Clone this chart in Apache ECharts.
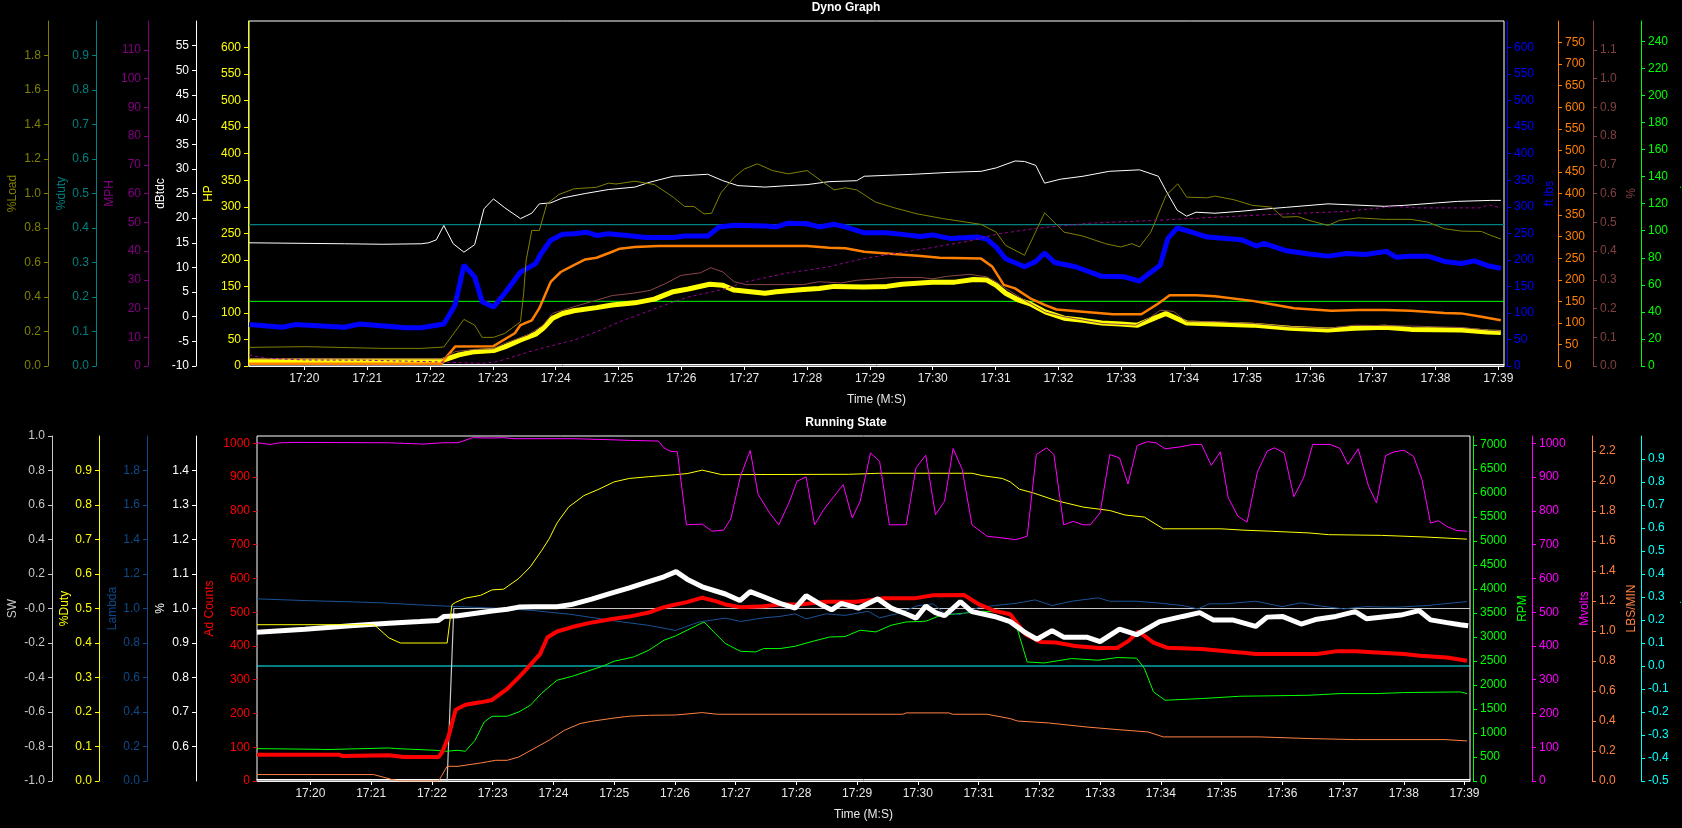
<!DOCTYPE html>
<html><head><meta charset="utf-8">
<style>html,body{margin:0;padding:0;background:#000;overflow:hidden}#c{width:1682px;height:828px}</style>
<script src="https://cdn.jsdelivr.net/npm/echarts@6/dist/echarts.min.js"></script>
</head><body><div id="c"></div>
<script>
// ---------- time axis (minutes after 17:00) ----------
const X_MIN = 19.12, X_MAX = 39.09;
const minuteTicks = [20,21,22,23,24,25,26,27,28,29,30,31,32,33,34,35,36,37,38,39];
const minuteLabels = ['17:20','17:21','17:22','17:23','17:24','17:25','17:26','17:27','17:28','17:29','17:30','17:31','17:32','17:33','17:34','17:35','17:36','17:37','17:38','17:39'];

// ---------- Dyno Graph series ----------
const ftLbs = [[19.12,78],[19.66,73],[19.85,78],[20.64,73],[20.88,79],[21.61,72],[21.86,72],[22.22,79],[22.40,115],[22.54,190],[22.71,168],[22.83,121],[23.01,111],[23.19,137],[23.44,177],[23.68,193],[23.77,212],[23.92,237],[24.11,248],[24.29,249],[24.50,252],[24.65,246],[24.84,249],[25.14,246],[25.44,242],[25.87,242],[26.05,245],[26.42,245],[26.60,262],[26.84,265],[27.33,264],[27.51,262],[27.70,269],[28.0,268],[28.19,262],[28.43,267],[28.61,262],[28.91,251],[29.27,251],[29.51,248],[29.81,244],[29.99,247],[30.29,240],[30.71,243],[30.86,239],[31.01,224],[31.16,202],[31.46,187],[31.64,197],[31.78,213],[31.94,195],[32.27,187],[32.69,169],[33.05,168],[33.29,160],[33.44,174],[33.62,190],[33.74,240],[33.89,260],[34.07,254],[34.37,243],[34.91,238],[35.15,226],[35.27,231],[35.63,217],[35.99,211],[36.29,207],[36.59,212],[36.89,210],[37.22,216],[37.37,205],[37.61,207],[37.88,207],[38.14,197],[38.41,193],[38.62,198],[38.83,189],[39.04,184]];
const hp = [[19.12,10],[22.19,10],[22.46,21],[22.71,27],[23.01,29],[23.19,36],[23.44,49],[23.68,60],[23.80,71],[23.95,90],[24.11,99],[24.29,104],[24.65,110],[24.90,115],[25.26,119],[25.57,126],[25.87,140],[26.11,145],[26.45,154],[26.66,152],[26.84,143],[27.33,137],[27.51,140],[27.94,144],[28.19,146],[28.43,150],[28.91,149],[29.27,150],[29.51,154],[29.99,158],[30.35,158],[30.65,163],[30.86,162],[31.01,152],[31.16,137],[31.37,124],[31.55,117],[31.79,102],[32.09,90],[32.39,86],[32.69,81],[32.99,79],[33.26,77],[33.44,86],[33.71,99],[34.04,81],[34.49,79],[35.09,77],[35.69,71],[36.29,68],[36.71,71],[37.19,73],[37.61,69],[38.41,68],[38.83,64],[39.04,63]];
const torqueOrange = [[19.12,5],[22.19,5],[22.22,14],[22.40,45],[23.01,46],[23.19,62],[23.35,76],[23.44,95],[23.62,106],[23.74,134],[23.92,195],[24.08,218],[24.29,234],[24.47,247],[24.65,251],[24.90,265],[25.02,272],[25.26,276],[25.63,278],[28.0,278],[28.35,274],[28.61,273],[28.91,265],[29.27,261],[29.81,255],[30.11,251],[30.77,249],[30.95,230],[31.13,188],[31.31,180],[31.55,157],[31.79,141],[31.97,131],[32.39,126],[32.87,120],[33.32,120],[33.59,145],[33.77,164],[34.19,164],[34.49,162],[35.09,151],[35.39,143],[35.75,134],[36.35,128],[36.77,130],[37.19,130],[37.61,128],[38.14,123],[38.41,122],[38.73,114],[39.04,106]];
const dBtdc = [[19.12,15.0],[20.64,14.8],[21.25,14.7],[21.86,14.8],[21.98,15.0],[22.10,15.6],[22.22,18.5],[22.37,14.8],[22.54,13.1],[22.71,14.6],[22.86,21.9],[23.01,23.9],[23.19,22.1],[23.44,19.9],[23.62,21.0],[23.74,22.9],[23.92,23.1],[24.11,24.1],[24.47,25.0],[24.84,25.8],[25.26,26.3],[25.50,27.3],[25.87,28.5],[26.42,28.9],[26.66,27.6],[26.90,26.6],[27.33,26.3],[27.70,26.6],[28.0,26.8],[28.35,27.4],[28.79,27.6],[28.91,28.5],[29.69,28.9],[30.29,29.3],[30.77,29.5],[31.01,30.2],[31.31,31.6],[31.46,31.5],[31.64,30.7],[31.78,27.1],[32.03,27.9],[32.39,28.5],[32.81,29.5],[33.29,29.8],[33.59,28.5],[33.71,25.6],[33.89,21.6],[34.04,20.4],[34.19,21.2],[34.49,21.0],[34.91,21.4],[35.15,21.7],[35.63,22.2],[36.29,22.9],[37.19,22.4],[37.51,22.6],[38.03,23.1],[38.35,23.4],[38.88,23.6],[39.04,23.6]];
const pctLoad = [[19.12,0.108],[20.03,0.112],[21.25,0.102],[21.86,0.102],[22.22,0.11],[22.54,0.27],[22.71,0.237],[22.83,0.166],[23.01,0.166],[23.19,0.189],[23.44,0.256],[23.49,0.42],[23.53,0.613],[23.62,0.786],[23.74,0.786],[23.86,0.94],[24.05,0.994],[24.29,1.027],[24.65,1.036],[24.84,1.06],[24.96,1.055],[25.26,1.071],[25.57,1.052],[25.87,0.979],[26.05,0.925],[26.20,0.925],[26.36,0.882],[26.48,0.885],[26.63,1.004],[26.84,1.094],[27.00,1.142],[27.21,1.172],[27.45,1.133],[27.70,1.114],[28.0,1.133],[28.24,1.07],[28.43,1.021],[28.61,1.033],[28.79,1.021],[29.09,0.95],[29.39,0.917],[29.75,0.882],[30.17,0.854],[30.77,0.821],[31.01,0.776],[31.16,0.699],[31.46,0.642],[31.78,0.888],[32.09,0.776],[32.39,0.753],[32.75,0.709],[32.99,0.69],[33.17,0.709],[33.29,0.69],[33.47,0.776],[33.71,0.988],[33.90,1.056],[34.04,0.979],[34.37,0.975],[34.49,0.985],[34.79,0.964],[35.09,0.931],[35.39,0.921],[35.57,0.863],[35.81,0.866],[35.99,0.844],[36.29,0.815],[36.47,0.844],[36.77,0.859],[37.19,0.85],[37.61,0.85],[37.88,0.834],[38.14,0.796],[38.41,0.782],[38.73,0.78],[38.88,0.757],[39.04,0.736]];
const pctBrown = [[19.12,0.025],[22.19,0.025],[22.40,0.05],[22.71,0.058],[23.01,0.06],[23.19,0.079],[23.56,0.108],[23.80,0.142],[23.95,0.183],[24.29,0.206],[24.65,0.229],[24.90,0.245],[25.26,0.254],[25.50,0.263],[25.75,0.287],[25.99,0.315],[26.30,0.324],[26.47,0.342],[26.66,0.327],[26.84,0.293],[27.03,0.283],[27.94,0.283],[28.18,0.293],[28.55,0.289],[28.79,0.298],[29.39,0.308],[29.81,0.308],[29.99,0.303],[30.23,0.312],[30.59,0.319],[30.86,0.31],[31.01,0.293],[31.16,0.27],[31.46,0.229],[31.79,0.188],[32.09,0.171],[32.39,0.16],[32.69,0.148],[33.23,0.142],[33.44,0.166],[33.62,0.194],[33.83,0.19],[34.04,0.154],[34.49,0.154],[35.09,0.148],[35.69,0.136],[36.29,0.131],[36.71,0.142],[37.61,0.139],[38.41,0.134],[38.83,0.125],[39.04,0.122]];
const mph = [[19.12,3.8],[19.42,2.7],[20.0,2.1],[21.0,2.0],[22.0,1.5],[22.83,0.9],[23.07,1.5],[23.32,3.2],[23.68,5.6],[23.98,7.3],[24.29,9.0],[24.65,11.9],[25.02,15.4],[25.38,18.3],[25.81,21.8],[26.11,24.0],[26.48,25.8],[26.72,27.0],[27.03,29.3],[27.33,30.7],[27.70,32.4],[28.0,33.3],[28.35,34.5],[28.55,35.6],[28.91,37.4],[29.39,39.1],[29.99,41.2],[30.59,43.5],[31.01,45.8],[31.61,47.8],[32.51,49.7],[33.59,50.7],[34.55,51.8],[35.39,52.7],[36.59,53.8],[37.35,55.5],[37.7,55.0],[38.7,55.0],[38.85,56.0],[39.04,55.0]];
const dutyRef = 0.41;   // teal flat line, %duty
const psiRef = 47.8;    // green flat line, psi

// ---------- Running State series ----------
const mvolts = [[19.12,1002],[19.34,997],[19.50,1002],[19.78,1003],[21.29,1002],[21.86,998],[22.17,1002],[22.43,1002],[22.67,1017],[22.99,1016],[23.18,1017],[23.37,1014],[24.31,1014],[24.94,1011],[25.25,1009],[25.73,1007],[25.82,987],[25.92,977],[26.04,975],[26.19,759],[26.45,761],[26.61,740],[26.80,743],[26.92,776],[27.08,903],[27.24,979],[27.37,849],[27.56,794],[27.71,759],[27.89,829],[28.01,888],[28.16,901],[28.30,759],[28.45,804],[28.77,878],[28.92,779],[29.05,829],[29.22,972],[29.37,947],[29.53,759],[29.81,759],[29.97,928],[30.13,965],[30.29,789],[30.44,829],[30.58,985],[30.73,923],[30.89,759],[31.14,725],[31.39,720],[31.61,715],[31.80,725],[31.95,967],[32.12,987],[32.24,967],[32.40,759],[32.56,769],[32.72,759],[32.84,759],[33.0,794],[33.16,967],[33.32,957],[33.46,880],[33.61,994],[33.78,1005],[33.92,1002],[34.07,984],[34.33,990],[34.52,997],[34.67,997],[34.83,935],[34.98,975],[35.11,839],[35.27,784],[35.42,767],[35.59,915],[35.75,977],[35.87,987],[36.03,972],[36.19,842],[36.35,898],[36.50,997],[36.79,997],[36.95,985],[37.08,938],[37.25,984],[37.42,873],[37.55,824],[37.70,964],[37.84,975],[38.0,980],[38.16,962],[38.30,893],[38.44,764],[38.57,771],[38.71,754],[38.87,742],[39.04,740]];
const dutyYellow = [[19.12,0.453],[21.04,0.453],[21.10,0.445],[21.29,0.415],[21.48,0.40],[22.25,0.40],[22.33,0.511],[22.39,0.518],[22.55,0.53],[22.80,0.538],[22.99,0.554],[23.18,0.556],[23.43,0.587],[23.62,0.621],[23.81,0.669],[23.93,0.702],[24.06,0.748],[24.25,0.794],[24.50,0.827],[24.75,0.846],[25.0,0.867],[25.25,0.877],[25.57,0.882],[26.01,0.888],[26.20,0.891],[26.45,0.901],[26.77,0.888],[28.86,0.889],[29.37,0.892],[30.89,0.892],[31.07,0.885],[31.39,0.877],[31.52,0.867],[31.67,0.846],[31.90,0.835],[32.27,0.813],[32.72,0.794],[33.16,0.784],[33.41,0.771],[33.73,0.765],[34.04,0.731],[34.99,0.731],[35.37,0.727],[35.81,0.724],[36.44,0.719],[36.76,0.714],[37.63,0.712],[38.38,0.707],[38.71,0.704],[39.04,0.701]];
const pctWhite = [[19.12,0.931],[19.91,0.94],[20.66,0.95],[21.29,0.957],[21.80,0.962],[22.10,0.965],[22.20,0.977],[22.43,0.979],[22.99,0.993],[23.24,0.998],[23.43,1.004],[23.68,1.005],[24.06,1.005],[24.31,1.012],[24.63,1.027],[24.94,1.044],[25.25,1.06],[25.57,1.078],[25.82,1.092],[26.02,1.107],[26.20,1.085],[26.45,1.063],[26.83,1.042],[27.07,1.023],[27.24,1.049],[27.46,1.034],[27.73,1.015],[27.98,1.001],[28.16,1.037],[28.42,1.01],[28.58,0.996],[28.74,1.015],[29.02,1.001],[29.34,1.028],[29.56,1.001],[29.81,0.984],[29.97,0.972],[30.13,1.007],[30.29,0.988],[30.44,0.979],[30.70,1.02],[30.89,0.991],[31.26,0.977],[31.52,0.962],[31.77,0.93],[31.96,0.911],[32.21,0.936],[32.40,0.917],[32.78,0.917],[33.0,0.904],[33.32,0.94],[33.60,0.924],[33.98,0.962],[34.36,0.977],[34.64,0.988],[34.86,0.967],[35.18,0.967],[35.56,0.948],[35.75,0.975],[36.0,0.977],[36.31,0.955],[36.57,0.969],[36.88,0.977],[37.20,0.991],[37.39,0.97],[37.95,0.981],[38.25,0.994],[38.44,0.967],[38.71,0.959],[38.93,0.953],[39.06,0.95]];
const adCounts = [[19.12,78],[20.47,78],[20.53,74],[21.29,76],[21.54,71],[22.11,71],[22.17,86],[22.27,130],[22.39,211],[22.55,226],[22.80,233],[22.99,240],[23.24,273],[23.43,307],[23.56,332],[23.78,376],[23.90,425],[24.06,443],[24.31,456],[24.56,467],[24.94,479],[25.25,487],[25.57,499],[25.82,515],[26.01,523],[26.20,530],[26.45,543],[26.67,533],[26.83,523],[27.08,515],[27.46,518],[27.73,523],[28.04,523],[28.49,531],[28.99,531],[29.43,541],[29.94,541],[30.25,550],[30.76,551],[31.01,523],[31.26,504],[31.52,494],[31.77,435],[32.02,412],[32.27,410],[32.59,400],[32.97,394],[33.28,394],[33.47,415],[33.63,443],[33.88,410],[34.10,395],[34.67,391],[35.30,381],[35.56,376],[36.57,376],[36.88,384],[37.20,384],[37.63,380],[38.0,376],[38.27,371],[38.71,366],[39.04,356]];
const lambda = [[19.12,1.056],[19.91,1.046],[20.53,1.040],[21.16,1.033],[21.79,1.021],[22.42,1.011],[23.05,1.002],[23.68,0.988],[24.31,0.965],[24.94,0.931],[25.57,0.902],[26.01,0.873],[26.39,0.921],[26.83,0.944],[27.08,0.925],[27.46,0.946],[27.73,0.954],[27.98,0.969],[28.16,0.94],[28.49,0.969],[28.80,0.96],[29.18,0.984],[29.37,0.946],[29.69,0.973],[30.0,1.017],[30.25,1.027],[30.44,0.973],[30.70,0.965],[31.01,1.007],[31.26,1.017],[31.64,1.031],[31.93,1.05],[32.21,1.017],[32.53,1.042],[32.97,1.062],[33.16,1.042],[33.60,1.042],[33.98,1.031],[34.36,1.017],[34.61,0.998],[34.80,1.027],[35.05,1.027],[35.56,1.042],[36.0,1.011],[36.31,1.033],[36.57,1.017],[37.01,0.998],[37.39,1.011],[37.84,1.007],[38.38,1.017],[38.66,1.027],[39.04,1.040]];
const rpm = [[19.12,675],[20.16,660],[20.22,654],[21.29,688],[21.42,675],[22.05,640],[22.23,620],[22.43,640],[22.55,619],[22.71,849],[22.86,1230],[22.99,1349],[23.24,1350],[23.43,1439],[23.62,1578],[23.81,1835],[24.06,2100],[24.31,2183],[24.56,2287],[24.81,2392],[25.0,2496],[25.32,2585],[25.57,2725],[25.82,2934],[26.01,3023],[26.20,3142],[26.48,3315],[26.64,3107],[26.83,2865],[27.08,2704],[27.33,2690],[27.46,2760],[27.73,2760],[27.98,2808],[28.23,2898],[28.55,3002],[28.80,3010],[29.05,3142],[29.31,3107],[29.56,3246],[29.81,3315],[30.13,3329],[30.38,3455],[30.70,3490],[31.07,3538],[31.48,3510],[31.61,3282],[31.80,2481],[32.08,2460],[32.53,2552],[32.97,2517],[33.28,2573],[33.60,2560],[33.73,2343],[33.88,1856],[34.07,1683],[34.67,1718],[35.30,1766],[36.44,1787],[36.95,1822],[37.56,1822],[38.0,1843],[38.93,1856],[39.04,1822]];
const lbsMin = [[19.12,0.043],[21.04,0.043],[21.35,0.009],[21.48,0.0],[22.11,0.0],[22.25,0.098],[22.43,0.098],[22.80,0.12],[23.05,0.138],[23.24,0.138],[23.43,0.16],[23.68,0.216],[23.93,0.272],[24.18,0.338],[24.44,0.383],[24.63,0.398],[25.0,0.42],[25.25,0.432],[25.57,0.438],[26.01,0.44],[26.45,0.456],[26.70,0.445],[29.75,0.445],[29.81,0.454],[30.51,0.454],[30.57,0.445],[31.14,0.445],[31.52,0.416],[31.64,0.40],[32.15,0.387],[32.78,0.36],[33.28,0.343],[33.79,0.327],[34.04,0.294],[35.62,0.294],[36.44,0.283],[37.20,0.276],[38.68,0.276],[38.71,0.267],[39.04,0.267]];
const sw = [[19.12,-1],[22.25,-1],[22.30,-0.55],[22.36,0],[39.09,0]];
const cyanRef = 0.0;

// ---------- helpers ----------
const FONT = '"Liberation Sans", Arial, sans-serif';
function fmt(v, dec) {
  if (dec === 'sw') return Math.abs(v) < 1e-9 ? '-0.0' : v.toFixed(1);
  return dec ? v.toFixed(dec) : String(Math.round(v));
}
function yAx(g, pos, off, name, col, min, max, first, last, step, dec, gap, opt) {
  opt = opt || {};
  const vals = [];
  for (let k = 0; first + k * step <= last + 1e-9; k++) vals.push(+(first + k * step).toFixed(6));
  return {
    type: 'value', gridIndex: g, position: pos, offset: off, min: min, max: max,
    name: name, nameLocation: 'middle', nameRotate: 90, nameGap: gap, nameMoveOverlap: false,
    nameTextStyle: { color: col, fontSize: 12, fontFamily: FONT },
    axisLine: { show: opt.noLine ? false : true, onZero: false, lineStyle: { color: opt.lineCol || col, width: 1 } },
    axisTick: { show: true, length: 4, customValues: vals, lineStyle: { color: opt.lineCol || col } },
    axisLabel: { show: true, customValues: vals, margin: 7, color: col, fontSize: 12, fontFamily: FONT,
      formatter: v => fmt(v, dec) },
    splitLine: { show: false }
  };
}
function xAx(g) {
  return {
    type: 'value', gridIndex: g, min: X_MIN, max: X_MAX, position: 'bottom',
    name: 'Time (M:S)', nameLocation: 'middle', nameGap: 28, nameMoveOverlap: false,
    nameTextStyle: { color: '#e8e8e8', fontSize: 12, fontFamily: FONT },
    axisLine: { show: true, onZero: false, lineStyle: { color: '#ffffff' } },
    axisTick: { show: true, length: 4, customValues: minuteTicks, lineStyle: { color: '#ffffff' } },
    axisLabel: { customValues: minuteTicks, margin: 7, color: '#e8e8e8', fontSize: 12, fontFamily: FONT,
      formatter: v => minuteLabels[minuteTicks.indexOf(Math.round(v))] },
    splitLine: { show: false }
  };
}
// second frame line just inside the bottom edge of each plot
function xAxInner(g) {
  return {
    type: 'value', gridIndex: g, min: X_MIN, max: X_MAX, position: 'bottom', offset: -2,
    axisLine: { show: true, onZero: false, lineStyle: { color: '#ffffff' } },
    axisTick: { show: false }, axisLabel: { show: false }, splitLine: { show: false }
  };
}
function ln(x, y, data, color, width, extra) {
  return Object.assign({ type: 'line', xAxisIndex: x, yAxisIndex: y, data: data, showSymbol: false, symbol: 'none',
    silent: true, animation: false, clip: true, lineStyle: { color: color, width: width } }, extra || {});
}
function flat(v) { return [[X_MIN, v], [X_MAX, v]]; }

const option = {
  backgroundColor: '#000000',
  animation: false,
  graphic: [
    { type: 'text', x: 846, y: 8, style: { text: 'Dyno Graph', fill: '#ffffff', font: 'bold 12px ' + FONT, align: 'center', verticalAlign: 'middle' } },
    { type: 'text', x: 846, y: 423, style: { text: 'Running State', fill: '#ffffff', font: 'bold 12px ' + FONT, align: 'center', verticalAlign: 'middle' } }
  ],
  grid: [
    { left: 249, top: 21, width: 1255, height: 345, show: true, borderColor: '#ffffff', borderWidth: 1, backgroundColor: 'transparent', containLabel: false, outerBoundsMode: 'none' },
    { left: 257, top: 436, width: 1213, height: 345, show: true, borderColor: '#ffffff', borderWidth: 1, backgroundColor: 'transparent', containLabel: false, outerBoundsMode: 'none' }
  ],
  xAxis: [xAx(0), xAx(1), xAxInner(0), xAxInner(1)],
  yAxis: [
    // top left
    yAx(0, 'left', 1, 'HP', '#ffff00', 0, 650, 0, 600, 50, 0, 33),
    yAx(0, 'left', 53, 'dBtdc', '#ffffff', -10, 60, -10, 55, 5, 0, 29),
    yAx(0, 'left', 101, 'MPH', '#800080', 0, 120, 0, 110, 10, 0, 32),
    yAx(0, 'left', 153, '%duty', '#008080', 0, 1.0, 0, 0.9, 0.1, 1, 28),
    yAx(0, 'left', 201, '%Load', '#808000', 0, 2.0, 0, 1.8, 0.2, 1, 29),
    // top right
    yAx(0, 'right', 3, 'ft lbs', '#0000ff', 0, 650, 0, 600, 50, 0, 37),
    yAx(0, 'right', 54, '', '#ff8000', 0, 800, 0, 750, 50, 0, 30),
    yAx(0, 'right', 89, '%', '#804040', 0, 1.2, 0, 1.1, 0.1, 1, 33),
    yAx(0, 'right', 137, 'psi', '#00ff00', 0, 255, 0, 240, 20, 0, 39),
    // bottom left
    yAx(1, 'left', 0, 'Ad Counts', '#ff0000', 0, 1022, 0, 1000, 100, 0, 41, { noLine: true }),
    yAx(1, 'left', 61, '%', '#ffffff', 0.5, 1.5, 0.6, 1.4, 0.1, 1, 29),
    yAx(1, 'left', 110, 'Lambda', '#0d4a8c', 0, 2.0, 0, 1.8, 0.2, 1, 28),
    yAx(1, 'left', 158, '%Duty', '#ffff00', 0, 1.0, 0, 0.9, 0.1, 1, 28),
    yAx(1, 'left', 205, 'SW', '#c8c8c8', -1, 1, -1, 1, 0.2, 'sw', 33),
    // bottom right
    yAx(1, 'right', 3, 'RPM', '#00ff00', 0, 7190, 0, 7000, 500, 0, 44),
    yAx(1, 'right', 62, 'Mvolts', '#ff00ff', 0, 1022, 0, 1000, 100, 0, 47),
    yAx(1, 'right', 122, 'LBS/MIN', '#ff8040', 0, 2.3, 0, 2.2, 0.2, 1, 34),
    yAx(1, 'right', 171, 'psi', '#00ffff', -0.5, 1.0, -0.5, 0.9, 0.1, 1, 39)
  ],
  series: [
    // top
    ln(0, 8, flat(psiRef), '#00ff00', 1),
    ln(0, 3, flat(dutyRef), '#008080', 1.2),
    ln(0, 5, ftLbs, '#0000ff', 5),
    ln(0, 0, hp, '#ffff00', 5),
    ln(0, 6, torqueOrange, '#ff8000', 2.5),
    ln(0, 7, pctBrown, '#8a4848', 1),
    ln(0, 1, dBtdc, '#ffffff', 1),
    ln(0, 4, pctLoad, '#808000', 1),
    ln(0, 2, mph, '#9a009a', 1, { lineStyle: { color: '#9a009a', width: 1, type: [3, 3] } }),
    // bottom
    ln(1, 17, flat(cyanRef), '#00ffff', 1.2),
    ln(1, 13, sw, '#c8c8c8', 1.2),
    ln(1, 16, lbsMin, '#ff8040', 1),
    ln(1, 14, rpm, '#00ff00', 1),
    ln(1, 11, lambda, '#1a5294', 1),
    ln(1, 9, adCounts, '#ff0000', 4),
    ln(1, 10, pctWhite, '#ffffff', 5),
    ln(1, 12, dutyYellow, '#ffff00', 1),
    ln(1, 15, mvolts, '#ff00ff', 1)
  ]
};
const chart = echarts.init(document.getElementById('c'), null, { renderer: 'canvas' });
chart.setOption(option);
</script>
</body></html>
